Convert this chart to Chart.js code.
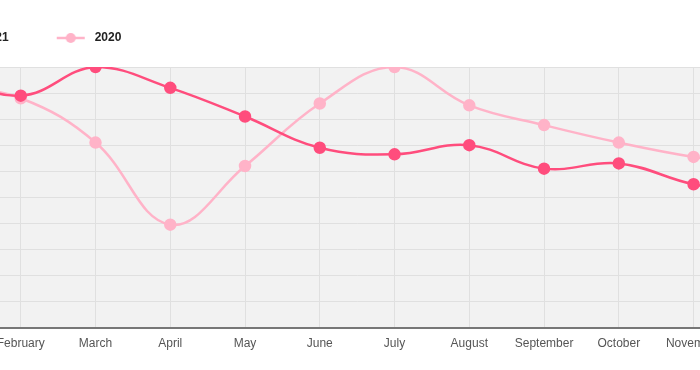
<!DOCTYPE html>
<html>
<head>
<meta charset="utf-8">
<script src="https://cdn.jsdelivr.net/npm/chart.js@4/dist/chart.umd.min.js"></script>
<style>
  html, body { margin: 0; padding: 0; background: #fff; overflow: hidden; }
  #wrap { position: absolute; left: -104px; top: 0; width: 909px; height: 370px; }
</style>
</head>
<body>
<div id="wrap"><canvas id="salesChart"></canvas></div>
<script>
// months on the x axis
const months = ['January', 'February', 'March', 'April', 'May', 'June', 'July',
  'August', 'September', 'October', 'November', 'December'];

// values
const values2021 = [97, 89, 100, 92, 81, 69, 66.5, 70, 61, 63, 55, 51];
const values2020 = [93, 88, 71, 39.5, 62, 86, 100, 85.3, 77.7, 71, 65.5, 62];

const color2021 = '#ff4d7d';
const color2020 = '#ffb3c8';

// legend marker: short line with a dot in the middle
function legendMarker(color) {
  const c = document.createElement('canvas');
  c.width = 70;
  c.height = 14;
  const g = c.getContext('2d');
  g.strokeStyle = color;
  g.lineWidth = 2.5;
  g.beginPath();
  g.moveTo(38, 7);
  g.lineTo(66, 7);
  g.stroke();
  g.fillStyle = color;
  g.beginPath();
  g.arc(52, 7, 5, 0, Math.PI * 2);
  g.fill();
  return c;
}
const markers = [legendMarker(color2021), legendMarker(color2020)];

// grey plot background
const plotBackground = {
  id: 'plotBackground',
  beforeDraw(chart) {
    const { ctx, chartArea } = chart;
    ctx.save();
    ctx.fillStyle = '#f2f2f2';
    ctx.fillRect(chartArea.left, chartArea.top, chartArea.right - chartArea.left, chartArea.bottom - chartArea.top);
    ctx.restore();
  }
};

// a bit of room under the legend
const legendGap = {
  id: 'legendGap',
  beforeInit(chart) {
    const fit = chart.legend.fit;
    chart.legend.fit = function () {
      fit.bind(chart.legend)();
      this.height += 13;
    };
  }
};

const ctx = document.getElementById('salesChart').getContext('2d');
const salesChart = new Chart(ctx, {
  type: 'line',
  data: {
    labels: months,
    datasets: [{
      label: '2021',
      data: values2021,
      borderColor: color2021,
      backgroundColor: color2021,
      borderWidth: 2.5,
      pointRadius: 5,
      pointHoverRadius: 6,
      tension: 0.4,
      fill: false
    }, {
      label: '2020',
      data: values2020,
      borderColor: color2020,
      backgroundColor: color2020,
      borderWidth: 2.5,
      pointRadius: 5,
      pointHoverRadius: 6,
      tension: 0.4,
      fill: false
    }]
  },
  options: {
    responsive: true,
    maintainAspectRatio: false,
    animation: false,
    layout: { padding: { top: 22, bottom: 10 } },
    plugins: {
      legend: {
        align: 'start',
        labels: {
          usePointStyle: true,
          pointStyleWidth: 70,
          padding: 10,
          color: '#222',
          font: { family: 'Arial, "Liberation Sans", sans-serif', size: 12, weight: 'bold' },
          generateLabels(chart) {
            const items = Chart.defaults.plugins.legend.labels.generateLabels(chart);
            items.forEach((item, i) => { item.pointStyle = markers[i]; });
            return items;
          }
        }
      },
      tooltip: { enabled: false }
    },
    scales: {
      x: {
        grid: { color: '#e0e0e0', drawTicks: false },
        border: { color: '#777', width: 2 },
        ticks: {
          padding: 9,
          color: '#555',
          font: { family: 'Arial, "Liberation Sans", sans-serif', size: 12 },
          maxRotation: 0
        }
      },
      y: {
        min: 0,
        max: 100,
        afterFit(scale) { scale.width = 50; },
        grid: { color: '#e0e0e0', drawTicks: false },
        border: { display: false },
        ticks: {
          stepSize: 10,
          padding: 8,
          color: '#555',
          font: { family: 'Arial, "Liberation Sans", sans-serif', size: 12 }
        }
      }
    }
  },
  plugins: [plotBackground, legendGap]
});
</script>
</body>
</html>
